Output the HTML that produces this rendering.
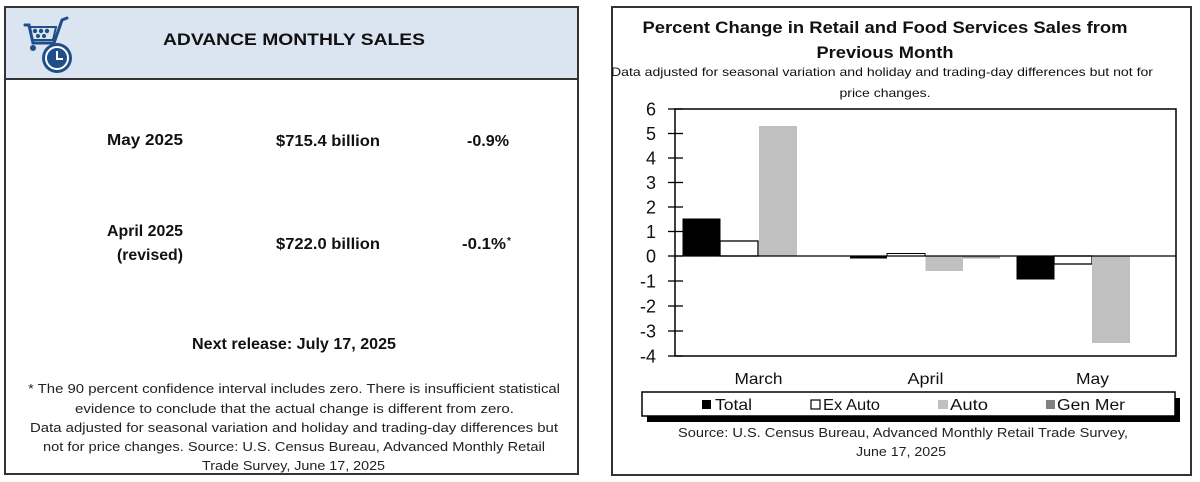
<!DOCTYPE html>
<html>
<head>
<meta charset="utf-8">
<style>
  html,body{margin:0;padding:0;background:#fff;}
  svg{display:block;}
  text{font-family:"Liberation Sans",Arial,sans-serif;}
</style>
</head>
<body>
<svg width="1200" height="482" viewBox="0 0 1200 482" xmlns="http://www.w3.org/2000/svg">
  <rect x="0" y="0" width="1200" height="482" fill="#fff"/>

  <!-- ============ LEFT PANEL ============ -->
  <rect x="5" y="7" width="573" height="72" fill="#dbe5f1"/>
  <rect x="5" y="7" width="573" height="467" fill="none" stroke="#333" stroke-width="2"/>
  <line x1="5" y1="79" x2="578" y2="79" stroke="#333" stroke-width="2"/>

  <!-- cart + clock icon -->
  <g fill="#1f4e89" stroke="#1f4e89">
    <path d="M25 25 L29 25 L33 43 L52 43" fill="none" stroke-width="3" stroke-linecap="round"/>
    <path d="M29 27 L56 27 L53 40 L32 40 Z" fill="none" stroke-width="2"/>
    <circle cx="35" cy="31" r="2.2" stroke="none"/>
    <circle cx="41" cy="31" r="2.2" stroke="none"/>
    <circle cx="47" cy="31" r="2.2" stroke="none"/>
    <circle cx="38" cy="36" r="2" stroke="none"/>
    <circle cx="44" cy="36" r="2" stroke="none"/>
    <path d="M54 43 L62 20 L67 18" fill="none" stroke-width="3" stroke-linecap="round"/>
    <circle cx="33" cy="48" r="3" stroke="none"/>
    <circle cx="57" cy="58" r="15" stroke="none" fill="#1f4e89"/>
    <circle cx="57" cy="58" r="11" fill="none" stroke="#fff" stroke-width="2"/>
    <path d="M57 51 L57 59 L63 59" fill="none" stroke="#fff" stroke-width="2"/>
  </g>

  <text x="163" y="45" font-size="17" font-weight="bold" fill="#111" textLength="262" lengthAdjust="spacingAndGlyphs">ADVANCE MONTHLY SALES</text>

  <text x="107" y="145" font-size="16" font-weight="bold" fill="#111" textLength="76" lengthAdjust="spacingAndGlyphs">May 2025</text>
  <text x="276" y="146" font-size="16" font-weight="bold" fill="#111" textLength="104" lengthAdjust="spacingAndGlyphs">$715.4 billion</text>
  <text x="467" y="146" font-size="16" font-weight="bold" fill="#111" textLength="42" lengthAdjust="spacingAndGlyphs">-0.9%</text>

  <text x="107" y="236" font-size="16" font-weight="bold" fill="#111" textLength="76" lengthAdjust="spacingAndGlyphs">April 2025</text>
  <text x="117" y="260" font-size="16" font-weight="bold" fill="#111" textLength="66" lengthAdjust="spacingAndGlyphs">(revised)</text>
  <text x="276" y="249" font-size="16" font-weight="bold" fill="#111" textLength="104" lengthAdjust="spacingAndGlyphs">$722.0 billion</text>
  <text x="462" y="249" font-size="16" font-weight="bold" fill="#111" textLength="44" lengthAdjust="spacingAndGlyphs">-0.1%</text>
  <text x="507" y="244" font-size="10" font-weight="bold" fill="#111">*</text>

  <text x="192" y="349" font-size="16" font-weight="bold" fill="#111" textLength="204" lengthAdjust="spacingAndGlyphs">Next release: July 17, 2025</text>

  <g font-size="13" fill="#222">
    <text x="28" y="393" textLength="532" lengthAdjust="spacingAndGlyphs">* The 90 percent confidence interval includes zero. There is insufficient statistical</text>
    <text x="75" y="413" textLength="439" lengthAdjust="spacingAndGlyphs">evidence to conclude that the actual change is different from zero.</text>
    <text x="30" y="432" textLength="528" lengthAdjust="spacingAndGlyphs">Data adjusted for seasonal variation and holiday and trading-day differences but</text>
    <text x="43" y="451" textLength="502" lengthAdjust="spacingAndGlyphs">not for price changes. Source: U.S. Census Bureau, Advanced Monthly Retail</text>
    <text x="202" y="470" textLength="183" lengthAdjust="spacingAndGlyphs">Trade Survey, June 17, 2025</text>
  </g>

  <!-- ============ RIGHT PANEL ============ -->
  <rect x="612" y="7" width="579" height="468" fill="none" stroke="#333" stroke-width="2"/>

  <text x="885" y="33" font-size="17" font-weight="bold" fill="#111" text-anchor="middle" textLength="485" lengthAdjust="spacingAndGlyphs">Percent Change in Retail and Food Services Sales from</text>
  <text x="885" y="58" font-size="17" font-weight="bold" fill="#111" text-anchor="middle" textLength="137" lengthAdjust="spacingAndGlyphs">Previous Month</text>
  <text x="882" y="76" font-size="12" fill="#111" text-anchor="middle" textLength="542" lengthAdjust="spacingAndGlyphs">Data adjusted for seasonal variation and holiday and trading-day differences but not for</text>
  <text x="885" y="97" font-size="12" fill="#111" text-anchor="middle" textLength="91" lengthAdjust="spacingAndGlyphs">price changes.</text>

  <!-- bars -->
  <!-- March -->
  <rect x="683" y="219" width="37" height="37" fill="#000" stroke="#000" stroke-width="1"/>
  <rect x="720" y="241" width="38" height="15" fill="#fff" stroke="#000" stroke-width="1.3"/>
  <rect x="759" y="126" width="38" height="130" fill="#c0c0c0"/>
  <!-- April -->
  <rect x="850" y="256" width="37" height="2.5" fill="#000"/>
  <rect x="887" y="253.5" width="38" height="2.5" fill="#fff" stroke="#000" stroke-width="1"/>
  <rect x="925.5" y="256" width="37.5" height="15" fill="#c0c0c0"/>
  <rect x="963" y="256" width="37" height="2.5" fill="#a6a6a6"/>
  <!-- May -->
  <rect x="1017" y="256" width="37" height="23" fill="#000" stroke="#000" stroke-width="1"/>
  <rect x="1054" y="256" width="38" height="8" fill="#fff" stroke="#000" stroke-width="1.3"/>
  <rect x="1092" y="256" width="38" height="87" fill="#c0c0c0"/>

  <!-- plot frame -->
  <rect x="675" y="109" width="501" height="247" fill="none" stroke="#000" stroke-width="1.5"/>
  <line x1="675" y1="256" x2="1176" y2="256" stroke="#000" stroke-width="1.3"/>

  <!-- ticks -->
  <g stroke="#000" stroke-width="1.3">
    <line x1="668" y1="109" x2="683" y2="109"/>
    <line x1="668" y1="133.5" x2="683" y2="133.5"/>
    <line x1="668" y1="158" x2="683" y2="158"/>
    <line x1="668" y1="182.5" x2="683" y2="182.5"/>
    <line x1="668" y1="207" x2="683" y2="207"/>
    <line x1="668" y1="231.5" x2="683" y2="231.5"/>
    <line x1="668" y1="256" x2="683" y2="256"/>
    <line x1="668" y1="281" x2="683" y2="281"/>
    <line x1="668" y1="306" x2="683" y2="306"/>
    <line x1="668" y1="331" x2="683" y2="331"/>
    <line x1="668" y1="356" x2="683" y2="356"/>
  </g>

  <g font-size="18" fill="#111" text-anchor="end">
    <text x="656" y="115.5">6</text>
    <text x="656" y="140">5</text>
    <text x="656" y="164.5">4</text>
    <text x="656" y="189">3</text>
    <text x="656" y="213.5">2</text>
    <text x="656" y="238">1</text>
    <text x="656" y="262.5">0</text>
    <text x="656" y="287.5">-1</text>
    <text x="656" y="312.5">-2</text>
    <text x="656" y="337.5">-3</text>
    <text x="656" y="362.5">-4</text>
  </g>

  <g font-size="16" fill="#111" text-anchor="middle">
    <text x="758.5" y="384" textLength="48" lengthAdjust="spacingAndGlyphs">March</text>
    <text x="925.5" y="384" textLength="36" lengthAdjust="spacingAndGlyphs">April</text>
    <text x="1092.5" y="384" textLength="33" lengthAdjust="spacingAndGlyphs">May</text>
  </g>

  <!-- legend -->
  <rect x="647" y="398" width="533" height="24" fill="#000"/>
  <rect x="642" y="392" width="533" height="24" fill="#fff" stroke="#000" stroke-width="1.5"/>
  <rect x="702" y="400" width="9" height="9" fill="#000"/>
  <text x="715" y="410" font-size="16" fill="#111" textLength="37" lengthAdjust="spacingAndGlyphs">Total</text>
  <rect x="811" y="400" width="9" height="9" fill="#fff" stroke="#000" stroke-width="1.2"/>
  <text x="823" y="410" font-size="16" fill="#111" textLength="57" lengthAdjust="spacingAndGlyphs">Ex Auto</text>
  <rect x="938" y="400" width="10" height="9" fill="#c0c0c0"/>
  <text x="950" y="410" font-size="16" fill="#111" textLength="38" lengthAdjust="spacingAndGlyphs">Auto</text>
  <rect x="1046" y="400" width="9" height="9" fill="#808080"/>
  <text x="1057" y="410" font-size="16" fill="#111" textLength="68" lengthAdjust="spacingAndGlyphs">Gen Mer</text>

  <g font-size="13" fill="#222" text-anchor="middle">
    <text x="903" y="437" textLength="450" lengthAdjust="spacingAndGlyphs">Source: U.S. Census Bureau, Advanced Monthly Retail Trade Survey,</text>
    <text x="901" y="456" textLength="90" lengthAdjust="spacingAndGlyphs">June 17, 2025</text>
  </g>
</svg>
</body>
</html>
